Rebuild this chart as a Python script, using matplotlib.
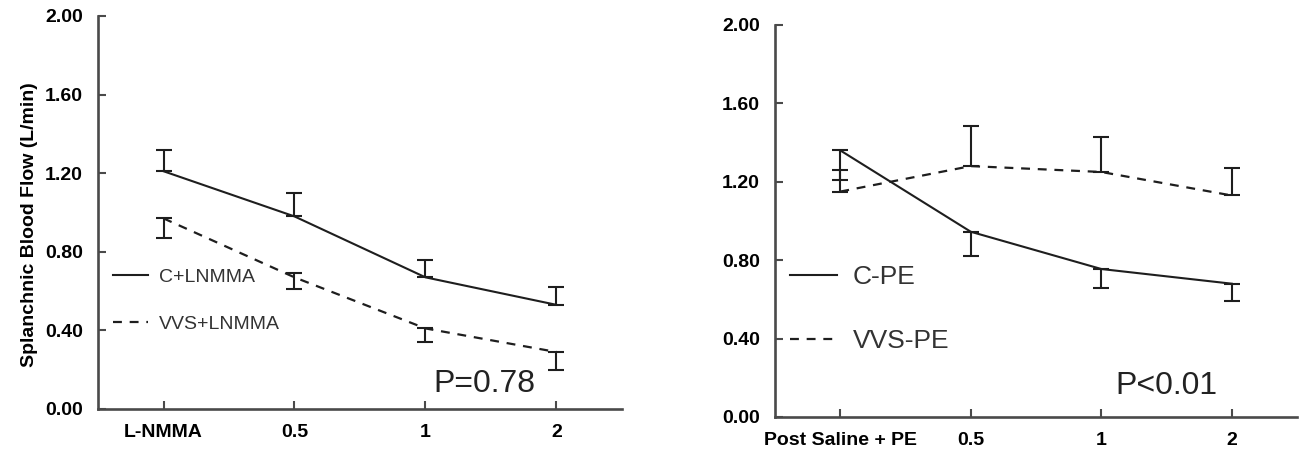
import numpy as np
import matplotlib
matplotlib.use("Agg")
import matplotlib.pyplot as plt

plt.rcParams["font.family"] = ["Liberation Sans", "DejaVu Sans"]

# left panel: L-NMMA infusion
left_labels = ["L-NMMA", "0.5", "1", "2"]
c_lnmma = [1.21, 0.98, 0.67, 0.53]
c_lnmma_err = [0.11, 0.12, 0.09, 0.09]
vvs_lnmma = [0.97, 0.67, 0.41, 0.29]
vvs_lnmma_err_lo = [0.10, 0.06, 0.07, 0.09]
vvs_lnmma_err_hi = [0.0, 0.02, 0.0, 0.0]

# right panel: phenylephrine
right_labels = ["Post Saline + PE", "0.5", "1", "2"]
c_pe = [1.36, 0.945, 0.755, 0.68]
c_pe_err = [0.15, 0.125, 0.095, 0.09]
vvs_pe = [1.15, 1.28, 1.25, 1.13]
vvs_pe_err = [0.11, 0.205, 0.18, 0.14]

yticks = [0.0, 0.4, 0.8, 1.2, 1.6, 2.0]

LINE = "#1e1e1e"
SPINE = "#4a4a4a"
DASH = (0, (4, 3.5))


def style_axes(ax, labels):
    x = np.arange(len(labels))
    ax.set_xlim(-0.5, 3.5)
    ax.set_ylim(0, 2.0)
    ax.set_xticks(x)
    ax.set_xticklabels(labels, fontweight="bold", fontsize=14)
    ax.set_yticks(yticks)
    ax.set_yticklabels([f"{v:.2f}" for v in yticks], fontweight="bold", fontsize=14)
    for side in ["top", "right"]:
        ax.spines[side].set_visible(False)
    for side in ["left", "bottom"]:
        ax.spines[side].set_linewidth(1.9)
        ax.spines[side].set_color(SPINE)
    ax.tick_params(direction="in", length=6, width=1.5, color=SPINE, pad=11)
    return x


def draw_panel(ax, labels, sol, sol_err, dash, dash_err, names, leg_size, ptext, ppos):
    x = style_axes(ax, labels)
    ax.plot(x, sol, color=LINE, lw=1.5, label=names[0])
    ax.plot(x, dash, color=LINE, lw=1.6, linestyle=DASH, label=names[1])
    ax.errorbar(x, sol, yerr=sol_err, fmt="none", ecolor=LINE,
                elinewidth=1.5, capsize=6, capthick=1.5)
    ax.errorbar(x, dash, yerr=dash_err, fmt="none", ecolor=LINE,
                elinewidth=1.5, capsize=6, capthick=1.5)
    leg = ax.legend(loc="center left", bbox_to_anchor=(0.028, 0.275),
                    frameon=False, fontsize=leg_size, handlelength=1.8,
                    handletextpad=0.58, labelspacing=1.52, borderpad=0,
                    borderaxespad=0)
    for t in leg.get_texts():
        t.set_color("#333333")
    ax.text(ppos[0], ppos[1], ptext, fontsize=23, color="#222222",
            ha="center", va="center")


fig = plt.figure(figsize=(13.05, 4.49), dpi=100)
ax1 = fig.add_axes([0.0751, 0.0891, 0.4015, 0.8753])
ax2 = fig.add_axes([0.5939, 0.0713, 0.4000, 0.8731])

zeros = [0.0] * len(c_lnmma)

draw_panel(ax1, left_labels, c_lnmma, [zeros, c_lnmma_err],
           vvs_lnmma, [vvs_lnmma_err_lo, vvs_lnmma_err_hi],
           ["C+LNMMA", "VVS+LNMMA"], 14, "P=0.78", (2.45, 0.127))
ax1.set_ylabel("Splanchnic Blood Flow (L/min)", fontweight="bold", fontsize=14)
ax1.yaxis.set_label_coords(-0.115, 0.47)

draw_panel(ax2, right_labels, c_pe, [c_pe_err, zeros],
           vvs_pe, [zeros, vvs_pe_err],
           ["C-PE", "VVS-PE"], 19, "P<0.01", (2.5, 0.158))

fig.savefig("out.png", dpi=100)
